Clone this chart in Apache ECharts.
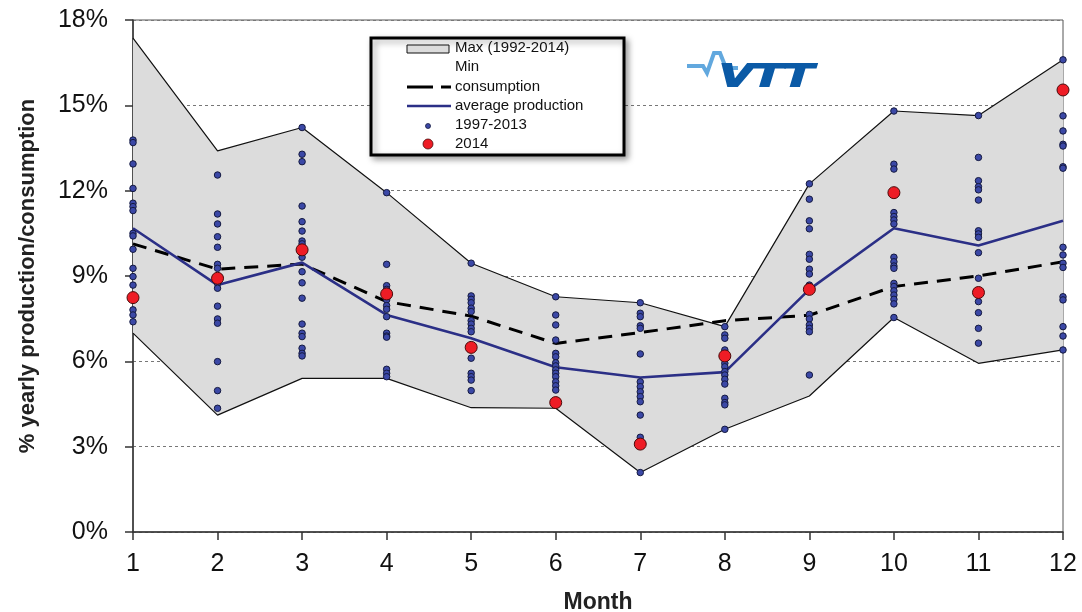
<!DOCTYPE html>
<html>
<head>
<meta charset="utf-8">
<script src="https://cdn.jsdelivr.net/npm/echarts@6/dist/echarts.min.js"></script>
<style>
  html, body { margin: 0; padding: 0; background: #fff; }
  #chart { width: 1082px; height: 612px; }
</style>
</head>
<body>
<div id="chart"></div>
<script>
// months on the x axis
const months = ['1', '2', '3', '4', '5', '6', '7', '8', '9', '10', '11', '12']
// envelope (1992-2014), % of yearly production
const maxVals = [17.36, 13.40, 14.22, 11.93, 9.45, 8.27, 8.06, 7.22, 12.24, 14.80, 14.64, 16.60]
const minVals = [6.99, 4.11, 5.40, 5.40, 4.37, 4.35, 2.09, 3.61, 4.78, 7.54, 5.93, 6.40]
// consumption share and average production
const consumption = [10.13, 9.24, 9.42, 8.10, 7.59, 6.63, 7.01, 7.43, 7.62, 8.63, 9.00, 9.50]
const avgProduction = [10.68, 8.68, 9.47, 7.63, 6.81, 5.79, 5.43, 5.62, 8.53, 10.68, 10.07, 10.94]
// year 2014
const y2014 = [8.24, 8.92, 9.92, 8.37, 6.49, 4.55, 3.09, 6.19, 8.53, 11.93, 8.42, 15.54]
// single years 1997-2013, one list per month
const years9713 = [
  [13.78, 13.69, 12.94, 12.08, 11.56, 11.44, 11.30, 10.50, 10.41, 9.94, 9.27, 8.98, 8.68, 7.81, 7.63, 7.39],
  [12.55, 11.18, 10.83, 10.38, 10.01, 9.41, 9.27, 8.74, 8.57, 7.94, 7.49, 7.34, 5.99, 4.97, 4.35],
  [14.22, 13.28, 13.02, 11.46, 10.91, 10.58, 10.23, 10.13, 9.66, 9.15, 8.76, 8.22, 7.31, 6.99, 6.87, 6.46, 6.28, 6.19],
  [11.93, 9.41, 8.66, 8.53, 8.16, 7.96, 7.83, 7.57, 6.99, 6.89, 6.85, 5.72, 5.58, 5.46],
  [9.45, 8.30, 8.18, 8.06, 7.87, 7.75, 7.43, 7.31, 7.16, 7.04, 6.11, 5.58, 5.46, 5.34, 4.97],
  [8.27, 7.63, 7.28, 6.75, 6.28, 6.16, 5.95, 5.84, 5.70, 5.58, 5.46, 5.28, 5.14, 4.99],
  [8.06, 7.69, 7.57, 7.25, 7.16, 6.26, 5.28, 5.11, 4.93, 4.76, 4.58, 4.11, 3.33, 2.09],
  [7.22, 6.93, 6.81, 6.40, 5.93, 5.81, 5.64, 5.52, 5.37, 5.20, 4.70, 4.55, 4.47, 3.61],
  [12.24, 11.70, 10.94, 10.66, 9.76, 9.59, 9.24, 9.07, 8.68, 7.65, 7.49, 7.28, 7.16, 7.04, 5.52],
  [14.80, 12.93, 12.76, 11.23, 11.09, 10.97, 10.83, 9.66, 9.50, 9.35, 9.27, 8.74, 8.63, 8.48, 8.33, 8.18, 8.02, 7.54],
  [14.64, 13.17, 12.35, 12.14, 12.03, 11.67, 10.59, 10.48, 10.36, 9.82, 8.92, 8.10, 7.71, 7.16, 6.64],
  [16.60, 14.63, 14.10, 13.63, 13.57, 12.84, 12.79, 10.01, 9.74, 9.45, 9.30, 8.27, 8.16, 7.22, 6.89, 6.40]
]

const chart = echarts.init(document.getElementById('chart'))

const dotData = []
years9713.forEach((list, i) => {
  list.forEach(v => dotData.push([i, v]))
})
// band thickness on top of the min line (stacked)
const bandData = maxVals.map((v, i) => +(v - minVals[i]).toFixed(2))

const font = 'Liberation Sans, Arial, sans-serif'
const navy = '#2b2f86'

const option = {
  backgroundColor: '#fff',
  animation: false,
  grid: {
    left: 133, right: 19, top: 20, bottom: 80,
    containLabel: false, outerBoundsMode: 'none',
    show: true, borderColor: '#555', borderWidth: 1, backgroundColor: '#fff'
  },
  xAxis: {
    type: 'category', data: months, boundaryGap: false,
    name: 'Month', nameLocation: 'middle', nameGap: 59,
    nameTextStyle: { fontFamily: font, fontSize: 23, fontWeight: 'bold', color: '#222' },
    axisLine: { lineStyle: { color: '#333', width: 1.5 } },
    axisTick: { length: 8, alignWithLabel: true, lineStyle: { color: '#333', width: 1.5 } },
    axisLabel: { fontFamily: font, fontSize: 25, color: '#111', margin: 20, interval: 0 },
    splitLine: { show: false }
  },
  yAxis: {
    type: 'value', min: 0, max: 18, interval: 3,
    name: '% yearly production/consumption', nameLocation: 'middle', nameGap: 94,
    nameTextStyle: { fontFamily: font, fontSize: 22, fontWeight: 'bold', color: '#222' },
    axisLine: { show: true, lineStyle: { color: '#333', width: 1.5 } },
    axisTick: { show: true, length: 8, lineStyle: { color: '#333', width: 1.5 } },
    axisLabel: { fontFamily: font, fontSize: 25, color: '#111', margin: 25, formatter: '{value}%' },
    splitLine: { lineStyle: { color: '#777', width: 1, type: [3, 3] } }
  },
  series: [
    {
      name: 'Min', type: 'line', stack: 'band', data: minVals,
      symbol: 'none', z: 3,
      lineStyle: { color: '#111', width: 1.2 }
    },
    {
      name: 'Max (1992-2014)', type: 'line', stack: 'band', data: bandData,
      symbol: 'none', z: 2,
      lineStyle: { color: '#111', width: 1.2 },
      areaStyle: { color: '#dcdcdc', opacity: 1 }
    },
    {
      name: 'consumption', type: 'line', data: consumption,
      symbol: 'none', z: 4,
      lineStyle: { color: '#000', width: 3, type: [14, 9] }
    },
    {
      name: 'average production', type: 'line', data: avgProduction,
      symbol: 'none', z: 5,
      lineStyle: { color: navy, width: 2.6 }
    },
    {
      name: '1997-2013', type: 'scatter', data: dotData,
      symbolSize: 6.5, z: 6,
      itemStyle: { color: '#3b48a6', borderColor: '#151a40', borderWidth: 1, opacity: 1 }
    },
    {
      name: '2014', type: 'scatter', data: y2014,
      symbolSize: 12, z: 7,
      itemStyle: { color: '#ee1c25', borderColor: '#4a0a0a', borderWidth: 1, opacity: 1 }
    }
  ],
  graphic: [
    // legend box
    { type: 'rect', z: 100, shape: { x: 371, y: 38, width: 253, height: 117 },
      style: { fill: '#fff', stroke: '#000', lineWidth: 3,
               shadowBlur: 6, shadowOffsetX: 3, shadowOffsetY: 3, shadowColor: 'rgba(0,0,0,0.35)' } },
    { type: 'rect', z: 101, shape: { x: 407, y: 45, width: 42, height: 8 },
      style: { fill: '#dcdcdc', stroke: '#111', lineWidth: 1 } },
    { type: 'text', z: 101, x: 455, y: 48, style: { text: 'Max (1992-2014)', font: '15px ' + font, fill: '#111', textVerticalAlign: 'middle' } },
    { type: 'text', z: 101, x: 455, y: 67, style: { text: 'Min', font: '15px ' + font, fill: '#111', textVerticalAlign: 'middle' } },
    { type: 'line', z: 101, shape: { x1: 407, y1: 87, x2: 451, y2: 87 },
      style: { stroke: '#000', lineWidth: 3, lineDash: [26, 8] } },
    { type: 'text', z: 101, x: 455, y: 87, style: { text: 'consumption', font: '15px ' + font, fill: '#111', textVerticalAlign: 'middle' } },
    { type: 'line', z: 101, shape: { x1: 407, y1: 106, x2: 451, y2: 106 },
      style: { stroke: navy, lineWidth: 2.6 } },
    { type: 'text', z: 101, x: 455, y: 106, style: { text: 'average production', font: '15px ' + font, fill: '#111', textVerticalAlign: 'middle' } },
    { type: 'circle', z: 101, shape: { cx: 428, cy: 126, r: 2.5 },
      style: { fill: '#3b48a6', stroke: '#151a40', lineWidth: 0.8 } },
    { type: 'text', z: 101, x: 455, y: 125, style: { text: '1997-2013', font: '15px ' + font, fill: '#111', textVerticalAlign: 'middle' } },
    { type: 'circle', z: 101, shape: { cx: 428, cy: 144, r: 5 },
      style: { fill: '#ee1c25', stroke: '#4a0a0a', lineWidth: 0.8 } },
    { type: 'text', z: 101, x: 455, y: 144, style: { text: '2014', font: '15px ' + font, fill: '#111', textVerticalAlign: 'middle' } },
    // VTT logo
    { type: 'polyline', z: 100,
      shape: { points: [[687, 66], [703, 66], [707, 73], [714, 53], [720, 53], [726, 68], [738, 68]] },
      style: { stroke: '#62a8de', lineWidth: 4, fill: null, lineJoin: 'miter' } },
    { type: 'text', z: 100, x: 719, y: 77, scaleX: 1.55,
      style: { text: 'VTT', font: 'italic bold 32px ' + font, fill: '#0b5aa6',
               stroke: '#0b5aa6', lineWidth: 2, textVerticalAlign: 'middle' } }
  ]
}

chart.setOption(option)
</script>
</body>
</html>
